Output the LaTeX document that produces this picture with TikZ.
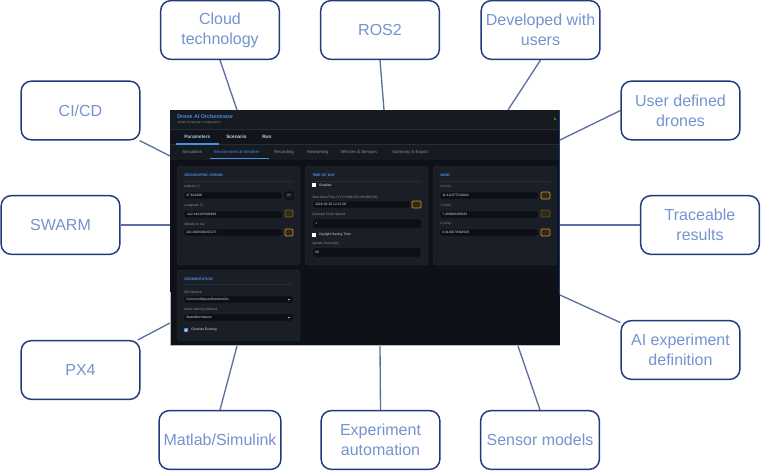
\documentclass[tikz,border=0pt]{standalone}
\usepackage{fontspec}
\setmainfont{Liberation Sans}
\usetikzlibrary{backgrounds}
\definecolor{boxline}{HTML}{1F3B7B}
\definecolor{boxtext}{HTML}{7394CE}
\definecolor{linkc}{HTML}{5B6FA0}
\definecolor{uibg}{HTML}{0E1117}
\definecolor{uihead}{HTML}{161A21}
\definecolor{uipanel}{HTML}{1A1E26}
\definecolor{uifield}{HTML}{0C0F14}
\definecolor{uiline}{HTML}{272C35}
\definecolor{uiblue}{HTML}{4A90E2}
\definecolor{uitext}{HTML}{8A929E}
\definecolor{uiamber}{HTML}{C8962A}
\tikzset{
  feature/.style={draw=boxline, line width=1.1pt, rounded corners=7.5pt, fill=white,
    minimum width=89pt, minimum height=44pt, text=boxtext, align=center,
    font=\fontsize{12}{15}\selectfont},
  link/.style={draw=linkc, line width=1pt},
  ui/.style={inner sep=0pt, anchor=west, text=uitext, font=\fontsize{2.5}{3}\selectfont},
  uititle/.style={ui, text=uiblue, font=\fontsize{2.7}{3}\selectfont\bfseries},
  panel/.style={fill=uipanel, draw=uiline, line width=0.3pt, rounded corners=2.5pt},
  field/.style={fill=uifield, draw=uiline, line width=0.2pt, rounded corners=0.8pt},
  amberbtn/.style={draw=uiamber, fill=uiamber!20!uifield, line width=0.5pt, rounded corners=0.8pt},
  plainbtn/.style={draw=uiline!150, fill=uipanel, line width=0.4pt, rounded corners=0.8pt}
}
\begin{document}
\begin{tikzpicture}[x=0.75pt, y=-0.75pt]
\useasboundingbox (0,0) rectangle (761,471);

% the application screenshot
\node[fill=uibg, inner sep=0pt, minimum width=292.5pt, minimum height=177pt, anchor=north west] (app) at (170,110) {};
\fill[uihead] (170,110) rectangle (560,129);
\fill[uibg!60!uihead] (170,129) rectangle (560,144);
\fill[uihead] (170,144) rectangle (560,160);
\draw[uiline, line width=0.4pt] (170,129) -- (560,129);
\draw[uiline, line width=0.4pt] (170,144) -- (560,144);
\draw[gray!55, line width=0.6pt] (170.4,292) -- (170.4,345.6) -- (560,345.6);
\draw[boxline, line width=0.6pt] (559.6,110) -- (559.6,295);

\node[ui, text=uiblue, font=\fontsize{4}{4}\selectfont\bfseries] (title) at (177,117) {Drone AI Orchestrator};
\node[ui, font=\fontsize{2.3}{3}\selectfont] (subtitle) at (177,123) {AirSim Parameter Configuration};
\fill[green!70!black] (555,119) circle (1.3);

% tabs
\node[ui, text=uiblue!50!white, font=\fontsize{3.6}{4}\selectfont\bfseries] (tabpar) at (184,137) {Parameters};
\node[ui, text=gray!35, font=\fontsize{3.6}{4}\selectfont\bfseries] (tabscen) at (226,137) {Scenario};
\node[ui, text=gray!35, font=\fontsize{3.6}{4}\selectfont\bfseries] (tabrun) at (262,137) {Run};
\draw[uiblue, line width=0.8pt] (176,144) -- (219,144);
\foreach \x/\lbl [count=\i] in {182/Simulation, 274/Recording, 307/Networking, 340/Vehicles \& Sensors, 392/Summary \& Export}
  \node[ui, font=\fontsize{3.2}{4}\selectfont] (sub\i) at (\x,152) {\lbl};
\node[ui, text=uiblue, font=\fontsize{3.2}{4}\selectfont] (subenv) at (214,152) {Environment \& Weather};
\draw[uiblue, line width=0.7pt] (210,158) -- (269,158);

% panels
\draw[panel] (177,166) rectangle (300,265);
\draw[panel] (305,166) rectangle (428,265);
\draw[panel] (433,166) rectangle (557,265);
\draw[panel] (177,270) rectangle (300,341);

% geographic origin
\node[uititle] (geo) at (184,175) {GEOGRAPHIC ORIGIN};
\draw[uiline, line width=0.3pt] (184,181) -- (293,181);
\foreach \y/\lbl/\val [count=\i] in {187/Latitude (°)/47.641468, 206/Longitude (°)/-122.140165099999, 224/Altitude m Asl/119.2900009155273}{
  \node[ui] (geolbl\i) at (184,\y) {\lbl};
  \draw[field] (184,\y+5) rectangle (282,\y+12);
  \node[ui, text=gray!30] (geoval\i) at (186,\y+8.5) {\val};
}
\draw[plainbtn] (285,192) rectangle (293,199);
\node[ui, anchor=center, text=gray!40] (geodots) at (289,195.5) {\textbullet\textbullet\textbullet};
\draw[amberbtn, draw=uiamber!60!uipanel] (285,210) rectangle (293,217);
\draw[amberbtn] (285,229) rectangle (293,236);

% time of day
\node[uititle] (tod) at (312,175) {TIME OF DAY};
\draw[uiline, line width=0.3pt] (312,181) -- (421,181);
\fill[white] (312,183) rectangle (316,187);
\node[ui, text=gray!25] (todon) at (319,185) {Enabled};
\node[ui] (todlbl1) at (312,198) {Start Date/Time (YYYY-MM-DD HH:MM:SS)};
\draw[field] (313,201) rectangle (410,208);
\node[ui, text=gray!30] (todval1) at (315,204.5) {2026-02-20 12:12:00};
\draw[amberbtn] (412,201) rectangle (421,208);
\node[ui] (todlbl2) at (312,215) {Celestial Clock Speed};
\draw[field] (313,219) rectangle (421,228);
\node[ui, text=gray!30] (todval2) at (315,223.5) {1};
\fill[white] (312,233) rectangle (316,237);
\node[ui, text=gray!25] (todsave) at (319,235) {Daylight Saving Time};
\node[ui] (todlbl3) at (312,244) {Update Interval(s)};
\draw[field] (313,248) rectangle (421,257);
\node[ui, text=gray!30] (todval3) at (315,252.5) {60};

% wind
\node[uititle] (wind) at (440,175) {WIND};
\draw[uiline, line width=0.3pt] (440,181) -- (550,181);
\foreach \y/\lbl/\val [count=\i] in {187/{X (m/s)}/11.411077519044, 206/{Y (m/s)}/7.406866400583, 224/{Z (m/s)}/0.0100079364545}{
  \node[ui] (windlbl\i) at (440,\y) {\lbl};
  \draw[field] (440,\y+5) rectangle (538,\y+12);
  \node[ui, text=gray!30] (windval\i) at (442,\y+8.5) {\val};
}
\draw[amberbtn] (541,192) rectangle (550,199);
\draw[amberbtn, draw=uiamber!45!uipanel] (541,210) rectangle (550,217);
\draw[amberbtn] (541,229) rectangle (550,236);

% segmentation
\node[uititle] (seg) at (184,279) {SEGMENTATION};
\draw[uiline, line width=0.3pt] (184,284) -- (293,284);
\foreach \y/\lbl/\val [count=\i] in {292/ISS Method/CommonObjectsRandomIDs, 310/Mesh Naming Method/StaticMeshName}{
  \node[ui] (seglbl\i) at (184,\y) {\lbl};
  \draw[field] (184,\y+4) rectangle (293,\y+11);
  \node[ui, text=gray!30] (segval\i) at (186,\y+7.5) {\val};
  \draw[gray!50, line width=0.3pt] (288,\y+7) -- (289,\y+8) -- (290,\y+7);
}
\fill[uiblue, rounded corners=0.4pt] (184,328) rectangle (188,332);
\draw[white, line width=0.4pt] (184.9,330) -- (185.8,331) -- (187.2,328.9);
\node[ui, text=gray!25] (segover) at (191,330) {Override Existing};

% feature boxes
\node[feature] (cloud) at (220,30) {Cloud\\technology};
\node[feature] (ros) at (380,30) {ROS2};
\node[feature] (users) at (540.5,30) {Developed with\\users};
\node[feature] (drones) at (680.5,110.5) {User defined\\drones};
\node[feature] (cicd) at (80.5,110.5) {CI/CD};
\node[feature] (swarm) at (60.5,225) {SWARM};
\node[feature] (trace) at (700,225) {Traceable\\results};
\node[feature] (aidef) at (680.5,350) {AI experiment\\definition};
\node[feature] (px4) at (80.5,370) {PX4};
\node[feature] (matlab) at (220,440) {Matlab/Simulink};
\node[feature] (expauto) at (380.5,440) {Experiment\\automation};
\node[feature] (sensor) at (540,440) {Sensor models};

% where the connectors meet the screenshot
\coordinate (appcloud) at (237,110);
\coordinate (appros) at (384,110);
\coordinate (appusers) at (508,110);
\coordinate (appdrones) at (560,140);
\coordinate (appcicd) at (170,156);
\coordinate (appswarm) at (170,225);
\coordinate (apptrace) at (560,225);
\coordinate (appaidef) at (560,295);
\coordinate (apppx4) at (170,323);
\coordinate (appmatlab) at (237,346);
\coordinate (appexp) at (380,346);
\coordinate (appsensor) at (518,346);

\begin{scope}[on background layer]
\draw[link] (cloud.south) -- (appcloud);
\draw[link] (ros.south) -- (appros);
\draw[link] (users.south) -- (appusers);
\draw[link] (drones.west) -- (appdrones);
\draw[link] (cicd) -- (appcicd);
\draw[link] (swarm) -- (appswarm);
\draw[link] (trace) -- (apptrace);
\draw[link] (aidef) -- (appaidef);
\draw[link] (px4) -- (apppx4);
\draw[link] (matlab.north) -- (appmatlab);
\draw[link] (expauto.north) -- (appexp);
\draw[link] (sensor.north) -- (appsensor);
\end{scope}
\end{tikzpicture}
\end{document}
